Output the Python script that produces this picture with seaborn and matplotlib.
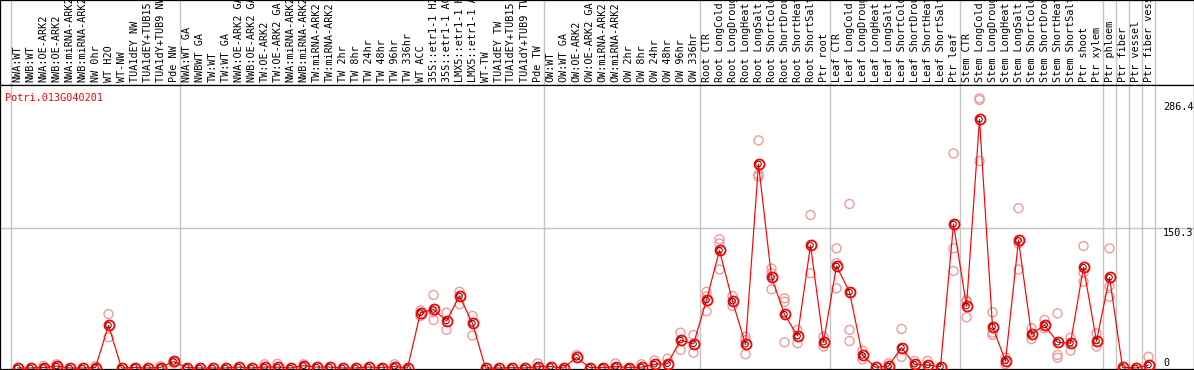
import numpy as np
import pandas as pd
import seaborn as sns
import matplotlib.pyplot as plt
from matplotlib.transforms import blended_transform_factory

# Sample labels, in plot order
labels = [
    "NWA:WT", "NWB:WT", "NWA:OE-ARK2", "NWB:OE-ARK2", "NWA:miRNA-ARK2", "NWB:miRNA-ARK2",
    "NW 0hr", "WT H2O", "WT-NW", "TUA1dEY NW", "TUA1dEY+TUB15 NW", "TUA1dY+TUB9 NW", "Pde NW",
    "NWA:WT GA", "NWBWT GA", "TW:WT", "TW:WT GA", "NWA:OE-ARK2 GA", "NWB:OE-ARK2 GA",
    "TW:OE-ARK2", "TW:OE-ARK2 GA", "NWA:miRNA-ARK2", "NWB:miRNA-ARK2", "TW:miRNA-ARK2",
    "TW:miRNA-ARK2", "TW 2hr", "TW 8hr", "TW 24hr", "TW 48hr", "TW 96hr", "TW 336hr",
    "WT ACC", "35S::etr1-1 H2O", "35S::etr1-1 ACC", "LMX5::etr1-1 H2O", "LMX5::etr1-1 ACC",
    "WT-TW", "TUA1dEY TW", "TUA1dEY+TUB15 TW", "TUA1dY+TUB9 TW", "Pde TW",
    "OW:WT", "OW:WT GA", "OW:OE-ARK2", "OW:OE-ARK2 GA", "OW:miRNA-ARK2", "OW:miRNA-ARK2",
    "OW 2hr", "OW 8hr", "OW 24hr", "OW 48hr", "OW 96hr", "OW 336hr",
    "Root CTR", "Root LongCold", "Root LongDrought", "Root LongHeat", "Root LongSalt",
    "Root ShortCold", "Root ShortDrought", "Root ShortHeat", "Root ShortSalt", "Ptr root",
    "Leaf CTR", "Leaf LongCold", "Leaf LongDrought", "Leaf LongHeat", "Leaf LongSalt",
    "Leaf ShortCold", "Leaf ShortDrought", "Leaf ShortHeat", "Leaf ShortSalt", "Ptr leaf",
    "Stem CTR", "Stem LongCold", "Stem LongDrought", "Stem LongHeat", "Stem LongSalt",
    "Stem ShortCold", "Stem ShortDrought", "Stem ShortHeat", "Stem ShortSalt", "Ptr shoot",
    "Ptr xylem", "Ptr phloem", "Ptr fiber", "Ptr vessel", "Ptr fiber vessel",
]

# mean expression per sample
means = [
    0, 0, 0.5, 2, 0, 0, 0.5, 46, 0, 0.5, 0, 0.5, 7,
    0.5, 0, 0, 0, 1, 0, 1, 1, 0, 2.5, 1, 1, 0, 0, 1, 0.5, 1.5, 0,
    59.5, 63, 50.6, 77.5, 48, 0, 0, 0.3, 0, 1.5,
    1.5, 0, 11.5, 0.5, 0.5, 1.5, 0.5, 1, 4, 4.5, 30, 26,
    73, 126.7, 72, 25.5, 219.6, 97.6, 57.8, 34.4, 132, 27.7,
    109.8, 81.8, 13.6, 0.7, 2, 22, 4, 3.2, 1.4, 155,
    66.7, 267.7, 44.5, 7.5, 137.4, 36.2, 46.3, 27.7, 26.6, 108.4, 29,
    97.6, 0.7, 0, 3.2,
]

# replicate values that show apart from the mean (sample index -> values)
replicates = {
    2: [2], 3: [4, 2], 6: [2], 7: [58, 33], 11: [2], 12: [7, 5],
    19: [4], 20: [4.5], 22: [4], 29: [4],
    31: [62, 56], 32: [78.6, 51.7, 60], 33: [59.5, 41], 34: [82, 68.6], 35: [56, 35],
    40: [5], 43: [14], 46: [5], 48: [4], 49: [8], 50: [10],
    51: [38, 19.4], 52: [35.5, 16.5],
    53: [82, 61, 77], 54: [138.5, 134, 106], 55: [77.5, 66.7], 56: [33.7, 14.7, 30],
    57: [245, 208.5, 206], 58: [107, 84.7, 102], 59: [75, 71.4, 27.7], 60: [41, 26.6],
    61: [164.7, 102], 62: [33.7, 23],
    63: [128.8, 113, 85.8], 64: [176.5, 41, 29], 65: [18.7, 9.4], 67: [5],
    68: [42, 12], 69: [7.5], 70: [7.5], 72: [231, 128.8, 104.4],
    73: [73, 54.6, 71.4], 74: [290.3, 288.5, 222.8], 75: [60, 35.5, 38], 76: [11, 4],
    77: [172, 134, 106], 78: [42.7, 31], 79: [51.7, 42.7], 80: [58.8, 14, 11],
    81: [32.6, 18.7], 82: [131.3, 102.6, 93], 83: [37.3, 23],
    84: [128.8, 88, 76.7], 87: [12],
}

# sizes of sample groups (separated by grey lines)
group_sizes = [13, 28, 12, 10, 10, 11, 1, 1, 1, 1]
y_marks = [0, 150.3, 286.4]
gene = "Potri.013G040201"

sns.set_style("white")
plt.rcParams['font.family'] = ['DejaVu Sans Mono']

W, H = 1194, 370
fig = plt.figure(figsize=(W / 100, H / 100), dpi=100)
top_px, bot_px = 85, 369
ax_lab = fig.add_axes([0, (H - top_px) / H, 1, top_px / H])
ax = fig.add_axes([0, (H - bot_px) / H, 1, (bot_px - top_px) / H])

xlim = (-17.5 / 13, (W - 17.5) / 13)
for a in (ax, ax_lab):
    a.set_xlim(*xlim)
    a.set_xticks([])
    a.set_yticks([])
    for s in a.spines.values():
        s.set_color('black')
        s.set_linewidth(0.9)

ax.set_ylim(-1.1, 304.6)
ax_lab.set_ylim(0, 1)

# grey group separators
bounds = np.cumsum([0] + group_sizes) - 0.5
for b in bounds:
    ax.axvline(b, color='#c4c4c4', lw=1, zorder=0)
    ax_lab.axvline(b, color='#c4c4c4', lw=1, zorder=0)
ax.axhline(150.3, color='#c4c4c4', lw=1, zorder=0)

# column labels, rotated, clipped at the top like the original
for i, lab in enumerate(labels):
    ax_lab.text(i, 0.03, lab, rotation=90, ha='center', va='bottom',
                fontsize=7.3, color='black', clip_on=True)

# replicate points
rep_df = pd.DataFrame([(i, v) for i, vals in replicates.items() for v in vals],
                      columns=['sample', 'value'])
sns.scatterplot(data=rep_df, x='sample', y='value', ax=ax, marker='o', s=42,
                facecolor='none', edgecolor='#ec9c9c', linewidth=1.0, zorder=2,
                clip_on=True)

# mean line
mean_df = pd.DataFrame({'sample': np.arange(len(means)), 'value': means})
sns.lineplot(data=mean_df, x='sample', y='value', ax=ax, color='red', lw=0.85,
             marker='o', markersize=7.2, markerfacecolor='none',
             markeredgecolor='red', markeredgewidth=1.3, zorder=3)
sns.scatterplot(data=mean_df, x='sample', y='value', ax=ax, marker='o', s=16,
                facecolor='none', edgecolor='#5a0000', linewidth=0.7, zorder=4)
ax.set_xlabel('')
ax.set_ylabel('')
ax.set_xlim(*xlim)

# value labels on the right
tr = blended_transform_factory(ax.transAxes, ax.transData)
for v in y_marks:
    ax.text(1163 / W, v, f"{v:g}", transform=tr, ha='left',
            va='bottom' if v == 0 else 'top', fontsize=7.3, color='black')

ax.text(5 / W, (bot_px - 98) / (bot_px - top_px), gene, transform=ax.transAxes,
        ha='left', va='center', fontsize=7.3, color='red')

fig.savefig('out.png', dpi=100)
